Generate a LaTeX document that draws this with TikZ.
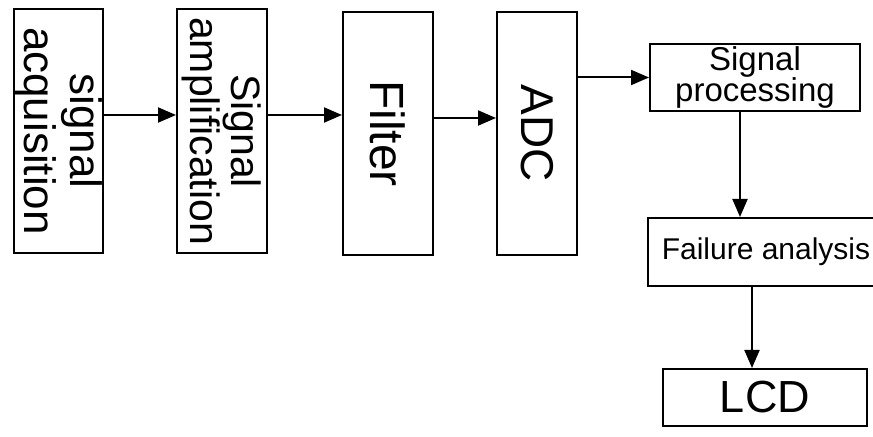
\documentclass[tikz,border=0pt]{standalone}
\usepackage{fontspec}
\setmainfont{Liberation Sans}
\usetikzlibrary{arrows.meta}
\begin{document}
\begin{tikzpicture}[x=0.5pt,y=-0.5pt,
  box/.style={draw,line width=1pt,inner sep=0pt,align=center},
  upright/.style={box,rotate=-90},
  arrow/.style={-{Triangle[length=9pt,width=7.5pt]},line width=1pt}]
  \useasboundingbox (0,0) rectangle (873,437);
  % vertical stages
  \node[upright,minimum width=122pt,minimum height=44.5pt,
    font=\fontsize{22}{23}\selectfont] (acq) at (58.5,131) {signal\\acquisition};
  \node[upright,minimum width=122pt,minimum height=45pt,
    font=\fontsize{20.5}{20.5}\selectfont] (amp) at (222,131) {Signal\\amplification};
  \node[upright,minimum width=121.5pt,minimum height=45pt,
    font=\fontsize{24}{26}\selectfont] (filter) at (388,133.5) {Filter};
  \node[upright,minimum width=121.5pt,minimum height=40pt,
    font=\fontsize{23}{25}\selectfont] (adc) at (537,133.5) {ADC};
  % right column
  \node[box,minimum width=105pt,minimum height=33.5pt,
    font=\fontsize{16.5}{15.5}\selectfont] (proc) at (755,77.5) {Signal\\processing};
  \node[box,minimum width=113pt,minimum height=34pt,
    font=\fontsize{15}{17}\selectfont] (fail) at (761,252) {\hspace*{5pt}Failure analysis};
  \node[box,minimum width=102pt,minimum height=28.5pt,
    font=\fontsize{22.5}{24}\selectfont] (lcd) at (765,397.5) {LCD};
  % connectors
  \draw[arrow] (acq.north |- 0,115) -- (amp.south |- 0,115);
  \draw[arrow] (amp.north |- 0,115) -- (filter.south |- 0,115);
  \draw[arrow] (filter.north |- 0,118) -- (adc.south |- 0,118);
  \draw[arrow] (adc.north |- proc.west) -- (proc.west);
  \draw[arrow] ([xshift=-7.5pt]proc.south) -- ([xshift=-7.5pt]proc.south |- fail.north);
  \draw[arrow] ([xshift=-4.5pt]fail.south) -- ([xshift=-4.5pt]fail.south |- lcd.north);
\end{tikzpicture}
\end{document}
